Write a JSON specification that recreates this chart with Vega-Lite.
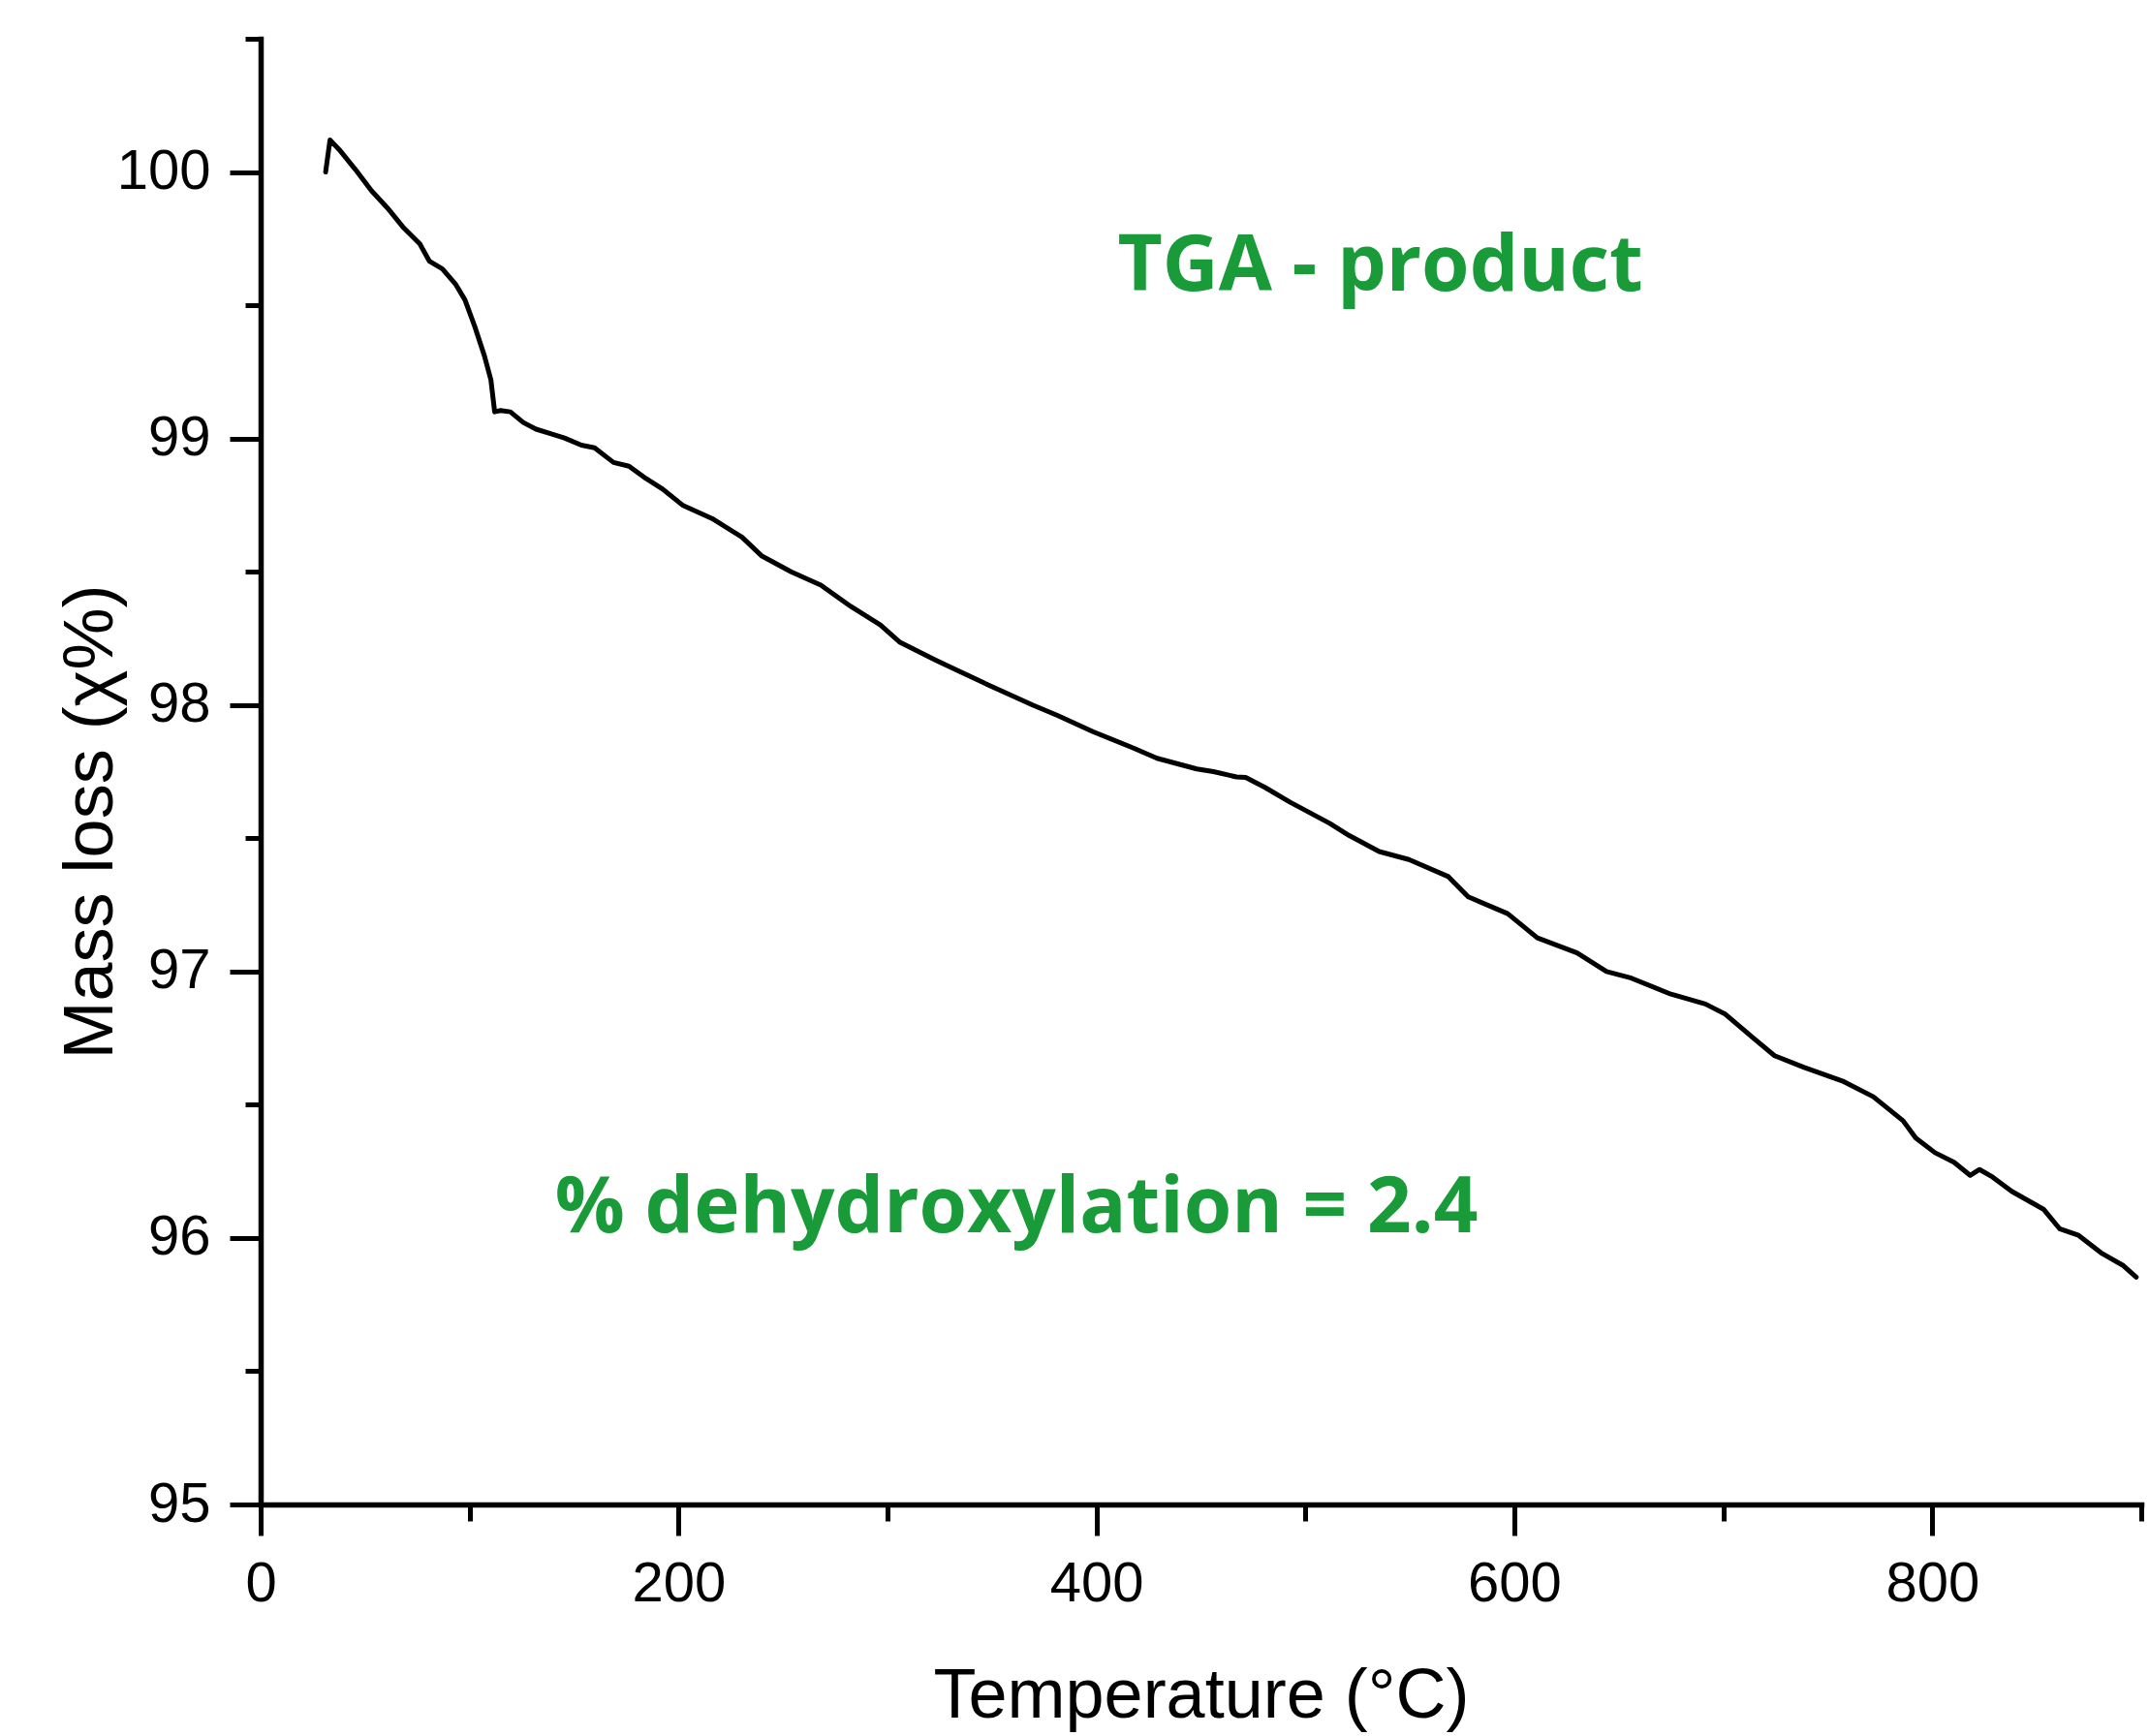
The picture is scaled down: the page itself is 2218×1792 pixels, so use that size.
{
  "$schema": "https://vega.github.io/schema/vega-lite/v6.json",
  "autosize": {"type": "none"},
  "padding": {"left": 269, "top": 40, "right": 8, "bottom": 239},
  "width": 1941,
  "height": 1513,
  "background": "white",
  "config": {"view": {"stroke": null}},
  "datasets": {
    "tga": [
      {"T": 31.1, "m": 100.0}, {"T": 33.2, "m": 100.12}, {"T": 37.6, "m": 100.084}, {"T": 45.3, "m": 100.01},
      {"T": 53.0, "m": 99.93}, {"T": 60.7, "m": 99.865}, {"T": 68.5, "m": 99.79}, {"T": 76.2, "m": 99.73},
      {"T": 80.8, "m": 99.665}, {"T": 87.0, "m": 99.636}, {"T": 93.2, "m": 99.58}, {"T": 97.8, "m": 99.52},
      {"T": 102.5, "m": 99.42}, {"T": 107.1, "m": 99.31}, {"T": 110.2, "m": 99.22}, {"T": 112.0, "m": 99.1},
      {"T": 114.8, "m": 99.105}, {"T": 119.5, "m": 99.1}, {"T": 125.7, "m": 99.06}, {"T": 131.8, "m": 99.035},
      {"T": 138.0, "m": 99.02}, {"T": 145.4, "m": 99.002}, {"T": 153.5, "m": 98.975}, {"T": 159.8, "m": 98.965},
      {"T": 168.9, "m": 98.91}, {"T": 176.3, "m": 98.896}, {"T": 184.4, "m": 98.85}, {"T": 192.4, "m": 98.81},
      {"T": 201.9, "m": 98.75}, {"T": 216.0, "m": 98.7}, {"T": 230.3, "m": 98.63}, {"T": 239.7, "m": 98.56},
      {"T": 253.9, "m": 98.5}, {"T": 268.1, "m": 98.45}, {"T": 282.4, "m": 98.37}, {"T": 296.6, "m": 98.3},
      {"T": 306.0, "m": 98.235}, {"T": 322.6, "m": 98.17}, {"T": 334.4, "m": 98.126}, {"T": 351.0, "m": 98.065},
      {"T": 369.7, "m": 97.999}, {"T": 381.6, "m": 97.96}, {"T": 398.3, "m": 97.9}, {"T": 417.2, "m": 97.84},
      {"T": 429.0, "m": 97.8}, {"T": 448.0, "m": 97.76}, {"T": 456.0, "m": 97.75}, {"T": 467.0, "m": 97.73},
      {"T": 471.4, "m": 97.728}, {"T": 480.8, "m": 97.69}, {"T": 492.7, "m": 97.635}, {"T": 511.6, "m": 97.556},
      {"T": 521.0, "m": 97.51}, {"T": 535.3, "m": 97.45}, {"T": 549.5, "m": 97.42}, {"T": 568.4, "m": 97.356},
      {"T": 577.9, "m": 97.28}, {"T": 596.8, "m": 97.217}, {"T": 611.0, "m": 97.126}, {"T": 630.0, "m": 97.07},
      {"T": 644.1, "m": 97.0}, {"T": 656.0, "m": 96.975}, {"T": 674.9, "m": 96.915}, {"T": 691.4, "m": 96.878},
      {"T": 700.9, "m": 96.84}, {"T": 715.1, "m": 96.745}, {"T": 724.5, "m": 96.684}, {"T": 738.7, "m": 96.64},
      {"T": 757.6, "m": 96.587}, {"T": 771.8, "m": 96.53}, {"T": 786.0, "m": 96.44}, {"T": 792.1, "m": 96.375},
      {"T": 801.3, "m": 96.32}, {"T": 810.4, "m": 96.284}, {"T": 818.1, "m": 96.235}, {"T": 822.6, "m": 96.257},
      {"T": 828.8, "m": 96.229}, {"T": 838.0, "m": 96.175}, {"T": 853.2, "m": 96.108}, {"T": 860.9, "m": 96.035},
      {"T": 870.0, "m": 96.01}, {"T": 880.8, "m": 95.944}, {"T": 891.5, "m": 95.896}, {"T": 897.6, "m": 95.853}
    ],
    "notes": [
      {"T": 535.8, "m": 99.556, "label": "TGA - product"},
      {"T": 361.7, "m": 96.023, "label": "% dehydroxylation = 2.4"}
    ]
  },
  "layer": [
    {
      "data": {"name": "tga"},
      "mark": {"type": "line", "color": "black", "strokeWidth": 5, "strokeJoin": "round", "strokeCap": "round", "clip": true},
      "encoding": {
        "x": {
          "field": "T", "type": "quantitative",
          "scale": {"domain": [0, 900], "nice": false, "zero": false},
          "axis": {
            "title": "Temperature (°C)",
            "values": [0, 100, 200, 300, 400, 500, 600, 700, 800, 900],
            "format": "d",
            "labelExpr": "datum.value % 200 === 0 && datum.value < 900 ? datum.label : ''",
            "grid": false,
            "domainColor": "black", "domainWidth": 5.5, "domainCap": "square",
            "tickColor": "black", "tickWidth": 5,
            "tickSize": {"condition": {"test": "datum.value % 200 === 0", "value": 32}, "value": 17},
            "labelFont": "Liberation Sans", "labelFontSize": 58, "labelColor": "black",
            "labelPadding": 21, "labelFlush": false, "labelOverlap": false,
            "titleFont": "Liberation Sans", "titleFontSize": 72, "titleFontWeight": "normal", "titleColor": "black",
            "titleBaseline": "alphabetic", "titleY": 219
          }
        },
        "y": {
          "field": "m", "type": "quantitative",
          "scale": {"domain": [95, 100.5], "nice": false, "zero": false},
          "axis": {
            "title": "Mass loss (χ%)",
            "values": [95, 95.5, 96, 96.5, 97, 97.5, 98, 98.5, 99, 99.5, 100, 100.5],
            "labelExpr": "datum.value % 1 === 0 && datum.value < 100.5 ? format(datum.value, 'd') : ''",
            "grid": false,
            "domainColor": "black", "domainWidth": 5.5, "domainCap": "square",
            "tickColor": "black", "tickWidth": 5,
            "tickSize": {"condition": {"test": "datum.value % 1 === 0", "value": 32}, "value": 16},
            "labelFont": "Liberation Sans", "labelFontSize": 58, "labelColor": "black",
            "labelPadding": 20, "labelFlush": false, "labelOverlap": false,
            "titleFont": "Liberation Sans", "titleFontSize": 72, "titleFontWeight": "normal", "titleColor": "black",
            "titleBaseline": "alphabetic", "titleX": -154, "titleY": 808, "titleAngle": -90
          }
        }
      }
    },
    {
      "data": {"name": "notes"},
      "mark": {"type": "text", "font": "Open Sans", "fontWeight": "bold", "fontSize": 80, "color": "#189b38", "align": "center", "baseline": "alphabetic"},
      "encoding": {
        "x": {"field": "T", "type": "quantitative"},
        "y": {"field": "m", "type": "quantitative"},
        "text": {"field": "label", "type": "nominal"}
      }
    }
  ]
}
